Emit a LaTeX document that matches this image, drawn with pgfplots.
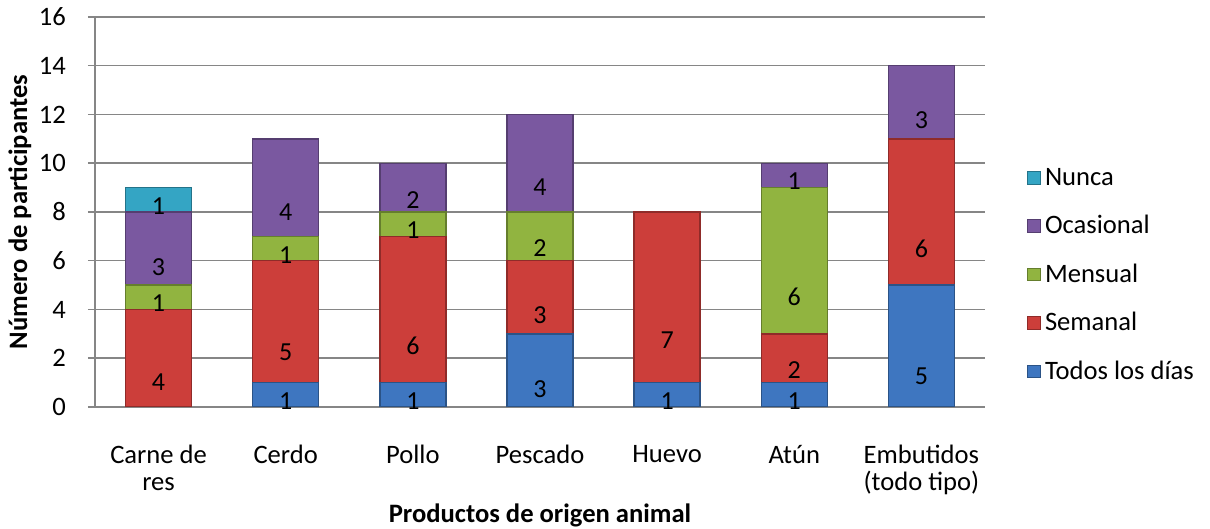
\documentclass[border=0pt]{standalone}
\usepackage{fontspec}
\setmainfont{Carlito}
\usepackage{pgfplots}
\pgfplotsset{compat=1.18}

\definecolor{cTodos}{RGB}{62,118,192}
\definecolor{cSemanal}{RGB}{204,62,58}
\definecolor{cMensual}{RGB}{145,180,64}
\definecolor{cOcasional}{RGB}{122,88,160}
\definecolor{cNunca}{RGB}{52,165,196}
\definecolor{gridgray}{RGB}{134,134,134}

\begin{document}
\begin{tikzpicture}
\begin{axis}[
  at={(0,0)}, anchor=south west,
  scale only axis, width=445pt, height=195pt,
  xmin=-0.5, xmax=6.5, ymin=0, ymax=16,
  ybar stacked, bar width=33pt,
  axis lines*=left,
  axis line style={gridgray, line width=0.75pt},
  ymajorgrids, grid style={gridgray, line width=0.75pt},
  ytick={0,2,...,16},
  tick align=outside, major tick length=3.5pt,
  ytick style={gridgray, line width=0.75pt},
  xtick={0,...,6}, xtick style={draw=none},
  xticklabels={Carne de\\res, Cerdo, Pollo, Pescado, Huevo, Atún, Embutidos\\(todo tipo)},
  /pgf/number format/assume math mode=true,
  tick label style={font=\fontsize{13.3}{13.5}\selectfont},
  xticklabel style={align=center, yshift=-12pt},
  yticklabel style={xshift=-7.5pt},
  ylabel={\bfseries Número de participantes},
  ylabel style={at={(axis description cs:-0.0843,0.5)}, anchor=center, font=\fontsize{13.3}{15}\selectfont},
  xlabel={\bfseries Productos de origen animal},
  xlabel style={at={(axis description cs:0.5,-0.277)}, anchor=center, font=\fontsize{13.3}{15}\selectfont},
  visualization depends on={rawy \as \rawy},
  nodes near coords={\pgfmathtruncatemacro\v{\rawy}\ifnum\v>0 \v\fi},
  every node near coord/.append style={anchor=center, yshift={-3.046875*\rawy}, font=\fontsize{13}{14}\selectfont, text=black},
  legend style={at={(1.047,0.338)}, anchor=west, draw=none, fill=none,
    font=\fontsize{13.3}{14}\selectfont, row sep=9.5pt, inner sep=0pt},
  legend cell align=left,
  reverse legend,
  legend image code/.code={\draw[#1, line width=0.4pt] (0pt,-3.2pt) rectangle (6.5pt,3.2pt);},
]
% Todos los días
\addplot[fill=cTodos, draw=cTodos!70!black, line width=0.7pt] coordinates {(0,0) (1,1) (2,1) (3,3) (4,1) (5,1) (6,5)};
% Semanal
\addplot[fill=cSemanal, draw=cSemanal!70!black, line width=0.7pt] coordinates {(0,4) (1,5) (2,6) (3,3) (4,7) (5,2) (6,6)};
% Mensual
\addplot[fill=cMensual, draw=cMensual!70!black, line width=0.7pt] coordinates {(0,1) (1,1) (2,1) (3,2) (4,0) (5,6) (6,0)};
% Ocasional
\addplot[fill=cOcasional, draw=cOcasional!70!black, line width=0.7pt] coordinates {(0,3) (1,4) (2,2) (3,4) (4,0) (5,1) (6,3)};
% Nunca
\addplot[fill=cNunca, draw=cNunca!70!black, line width=0.7pt] coordinates {(0,1) (1,0) (2,0) (3,0) (4,0) (5,0) (6,0)};
\legend{Todos los días, Semanal, Mensual, Ocasional, Nunca}
\end{axis}
\pgfresetboundingbox
\path[use as bounding box] (-47.5pt,-61pt) rectangle (557.5pt,203.5pt);
\end{tikzpicture}
\end{document}
